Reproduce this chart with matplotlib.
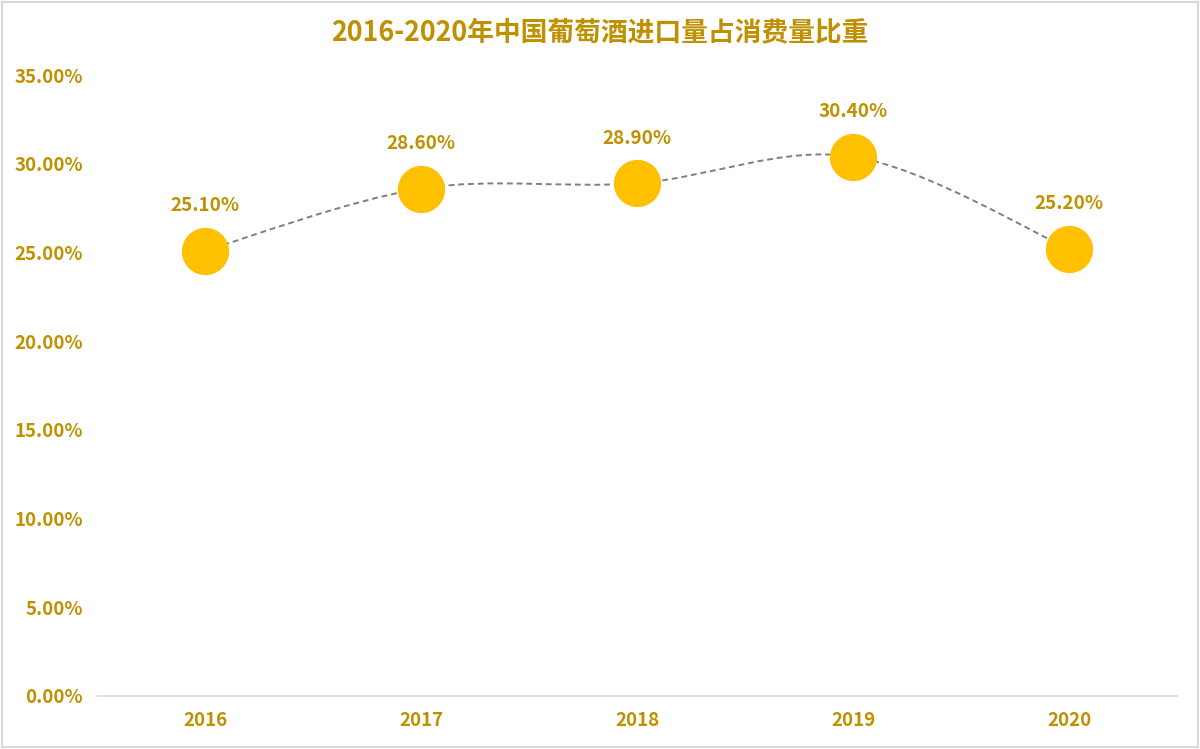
import matplotlib
matplotlib.use('Agg')
import matplotlib.pyplot as plt
from matplotlib.path import Path
from matplotlib.patches import PathPatch, Rectangle
from matplotlib.ticker import FuncFormatter
import numpy as np

plt.rcParams['font.family'] = ['Noto Sans CJK SC', 'DejaVu Sans']

years = ['2016', '2017', '2018', '2019', '2020']
share = [25.1, 28.6, 28.9, 30.4, 25.2]

gold = '#BF9000'
marker_color = '#FFC000'

fig = plt.figure(figsize=(12, 7.49), dpi=100)
ax = fig.add_axes([0.0808, 0.0708, 0.9002, 0.8290])

x = np.arange(len(years))
y = np.array(share)

# smoothed line (Catmull-Rom -> cubic Bezier segments, like Excel smoothing)
verts = [(x[0], y[0])]
codes = [Path.MOVETO]
n = len(x)
t = 1 / 6
for i in range(n - 1):
    p0 = (x[max(i - 1, 0)], y[max(i - 1, 0)])
    p1 = (x[i], y[i])
    p2 = (x[i + 1], y[i + 1])
    p3 = (x[min(i + 2, n - 1)], y[min(i + 2, n - 1)])
    c1 = (p1[0] + (p2[0] - p0[0]) * t, p1[1] + (p2[1] - p0[1]) * t)
    c2 = (p2[0] - (p3[0] - p1[0]) * t, p2[1] - (p3[1] - p1[1]) * t)
    verts += [c1, c2, p2]
    codes += [Path.CURVE4] * 3
ax.add_patch(PathPatch(Path(verts, codes), facecolor='none', edgecolor='#7F7F7F',
                       linestyle=(0, (3, 2)), linewidth=1.4, zorder=2))

ax.plot(x, y, linestyle='none', marker='o', markersize=34, color=marker_color,
        markeredgewidth=0, zorder=3)

for xi, v in zip(x, share):
    ax.annotate(f'{v:.2f}%', (xi, v), textcoords='offset points', xytext=(0, 32.5),
                ha='center', va='center', fontsize=13.6, fontweight='bold', color=gold)

ax.set_xlim(-0.5, len(years) - 0.5)
ax.set_ylim(0, 35)
ax.set_xticks(x)
ax.set_xticklabels(years)
ax.set_yticks(np.arange(0, 36, 5))
ax.yaxis.set_major_formatter(FuncFormatter(lambda v, p: f'{v:.2f}%'))
ax.tick_params(axis='both', length=0, labelsize=13.5, labelcolor=gold)
ax.tick_params(axis='y', pad=10)
ax.tick_params(axis='x', pad=11)
for lbl in ax.get_xticklabels() + ax.get_yticklabels():
    lbl.set_fontweight('bold')

for s in ['top', 'right', 'left']:
    ax.spines[s].set_visible(False)
ax.spines['bottom'].set_color('#D9D9D9')
ax.spines['bottom'].set_linewidth(1.2)

fig.text(0.5, 0.957, '2016-2020年中国葡萄酒进口量占消费量比重', ha='center', va='center',
         fontsize=19.3, fontweight='bold', color=gold)

fig.patches.append(Rectangle((0.002, 0.003), 0.996, 0.994, transform=fig.transFigure,
                             fill=False, edgecolor='#D9D9D9', linewidth=1.5))

fig.savefig('out.png', dpi=100)
